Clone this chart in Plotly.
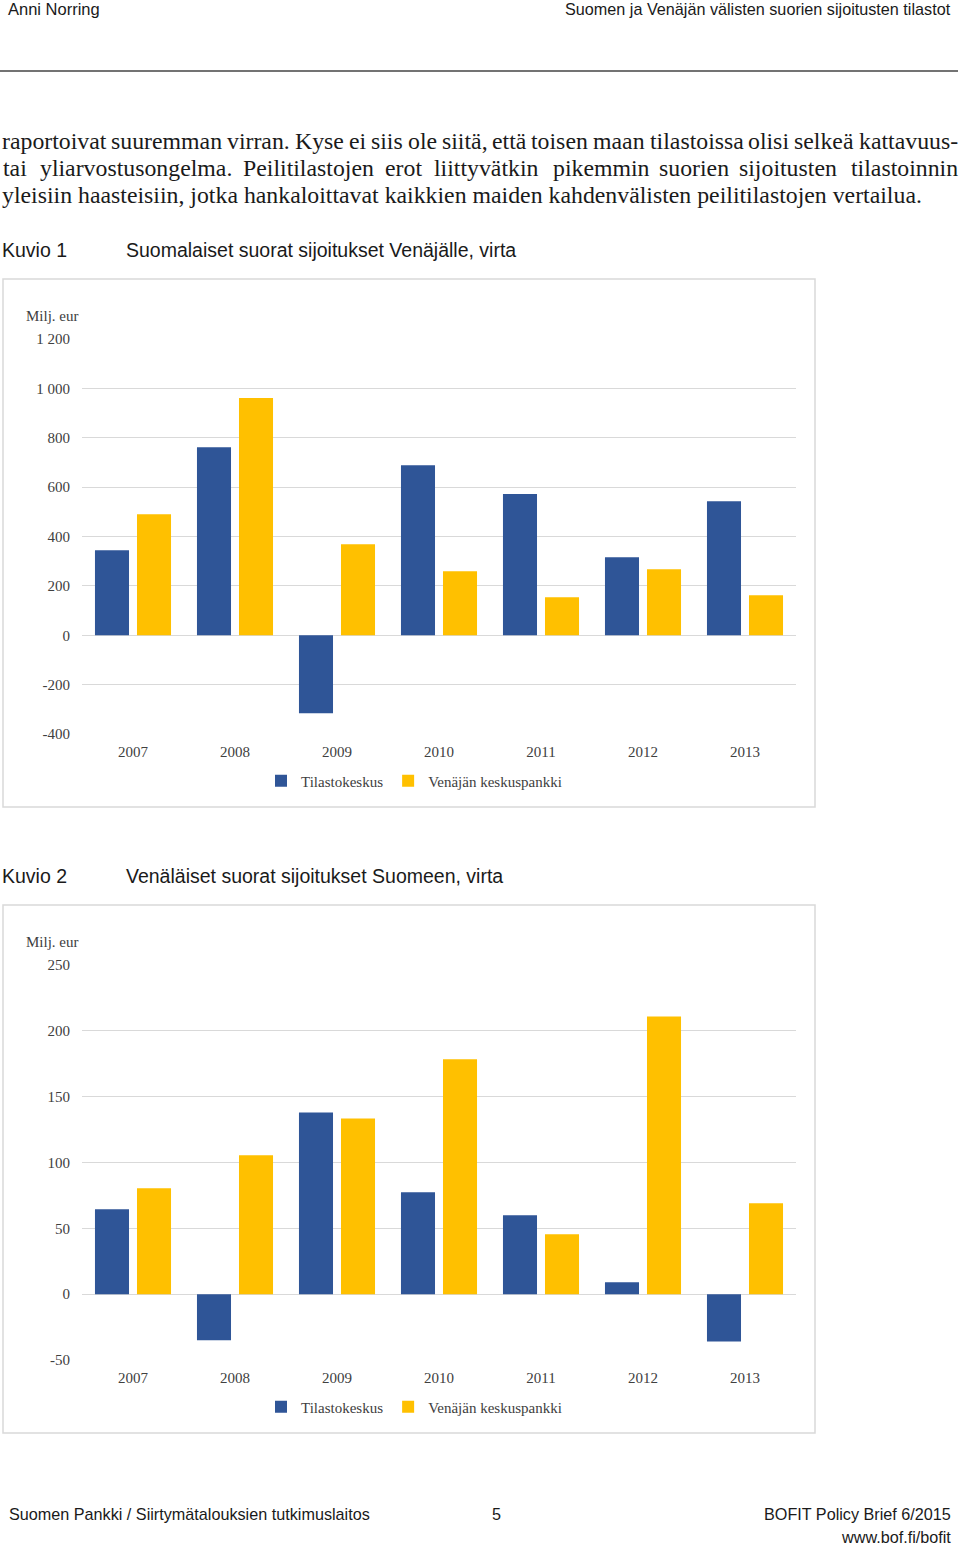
import plotly.graph_objects as go

W = 960
# The page is captured with an 8px band above the figure and a slight vertical
# rescale (1563 -> 1547); map reference pixel rows through it.
S = 1563 / 1547
OFF = 8
FIG_H = 1555

years = ["2007", "2008", "2009", "2010", "2011", "2012", "2013"]

# Kuvio 1: Suomalaiset suorat sijoitukset Venäjälle, virta (milj. eur)
fi_ru_tilastokeskus = [345, 762, -316, 689, 572, 316, 543]
fi_ru_keskuspankki = [490, 961, 369, 259, 154, 268, 162]

# Kuvio 2: Venäläiset suorat sijoitukset Suomeen, virta (milj. eur)
ru_fi_tilastokeskus = [64.5, -35, 138, 77.5, 60, 9, -36]
ru_fi_keskuspankki = [80.5, 105.5, 133.5, 178.5, 45.5, 211, 69]

series_names = ["Tilastokeskus", "Venäjän keskuspankki"]
colors = ["#2F5597", "#FFC000"]

y1_ticks = [-400, -200, 0, 200, 400, 600, 800, 1000, 1200]
y1_labels = ["-400", "-200", "0", "200", "400", "600", "800", "1 000", "1 200"]
y2_ticks = [-50, 0, 50, 100, 150, 200, 250]
y2_labels = ["-50", "0", "50", "100", "150", "200", "250"]

SERIF = "Liberation Serif, Times New Roman, serif"
SANS = "Liberation Sans, Arial, sans-serif"
TXT = "#1a1a1a"
AX = "#404040"


def X(px):
    return px / W


def Y(py):
    return 1 - (py * S - OFF) / FIG_H


fig = go.Figure()
for vals, name, col in [(fi_ru_tilastokeskus, series_names[0], colors[0]),
                        (fi_ru_keskuspankki, series_names[1], colors[1])]:
    fig.add_trace(go.Bar(x=years, y=vals, name=name, marker_color=col,
                         marker_line_width=0, xaxis="x", yaxis="y", legend="legend"))
for vals, name, col in [(ru_fi_tilastokeskus, series_names[0], colors[0]),
                        (ru_fi_keskuspankki, series_names[1], colors[1])]:
    fig.add_trace(go.Bar(x=years, y=vals, name=name, marker_color=col,
                         marker_line_width=0, xaxis="x2", yaxis="y2", legend="legend2"))

xdom = [X(82), X(796)]
common_x = dict(domain=xdom, showgrid=False, showline=False, ticks="", zeroline=False,
                tickfont=dict(family=SERIF, size=15, color=AX), ticklabelstandoff=7,
                fixedrange=True)
common_y = dict(showgrid=True, gridcolor="#d9d9d9", gridwidth=1, zeroline=True,
                zerolinecolor="#d9d9d9", zerolinewidth=1, showline=False, ticks="",
                tickfont=dict(family=SERIF, size=15, color=AX), ticklabelstandoff=11,
                fixedrange=True)

fig.update_layout(
    width=W, height=FIG_H, margin=dict(l=0, r=0, t=0, b=0),
    paper_bgcolor="white", plot_bgcolor="white",
    barmode="group", bargap=0.176, bargroupgap=0.19,
    xaxis=dict(**common_x, anchor="y"),
    yaxis=dict(**common_y, domain=[Y(734), Y(339)], range=[-400, 1200],
               tickvals=y1_ticks, ticktext=y1_labels, anchor="x"),
    xaxis2=dict(**common_x, anchor="y2"),
    yaxis2=dict(**common_y, domain=[Y(1360), Y(965)], range=[-50, 250],
                tickvals=y2_ticks, ticktext=y2_labels, anchor="x2"),
    legend=dict(orientation="h", x=X(414), xanchor="center", y=Y(781), yanchor="middle",
                font=dict(family=SERIF, size=15, color=AX), itemwidth=30,
                bgcolor="rgba(0,0,0,0)", traceorder="normal"),
    legend2=dict(orientation="h", x=X(414), xanchor="center", y=Y(1407), yanchor="middle",
                 font=dict(family=SERIF, size=15, color=AX), itemwidth=30,
                 bgcolor="rgba(0,0,0,0)", traceorder="normal"),
    showlegend=True,
)

shapes = [
    dict(type="line", xref="paper", yref="paper", x0=X(0), x1=X(958), y0=Y(71), y1=Y(71),
         line=dict(color="#444444", width=1.5)),
    dict(type="rect", xref="paper", yref="paper", x0=X(3), x1=X(815), y0=Y(279), y1=Y(807),
         line=dict(color="#d9d9d9", width=1.5), layer="below"),
    dict(type="rect", xref="paper", yref="paper", x0=X(3), x1=X(815), y0=Y(905), y1=Y(1433),
         line=dict(color="#d9d9d9", width=1.5), layer="below"),
]
fig.update_layout(shapes=shapes)

ann = []


def text(px, py, s, size, family, anchor="left", color=TXT):
    ann.append(dict(x=X(px), y=Y(py), xref="paper", yref="paper", text=s, showarrow=False,
                    xanchor=anchor, yanchor="middle", font=dict(family=family, size=size, color=color)))


# header
text(6, 9, "Anni Norring", 16.5, SANS)
text(953, 9, "Suomen ja Venäjän välisten suorien sijoitusten tilastot", 16.2, SANS, anchor="right")

# paragraph (justified lines placed word by word)
PF = 23.8
line1 = [(0, "raportoivat"), (109, "suuremman"), (225, "virran."), (293, "Kyse"), (347, "ei"),
         (369, "siis"), (406, "ole"), (440, "siitä,"), (490, "että"), (529, "toisen"),
         (591, "maan"), (648, "tilastoissa"), (746, "olisi"), (792, "selkeä")]
line2 = [(1, "tai"), (38, "yliarvostusongelma."), (241, "Peilitilastojen"), (383, "erot"),
         (432, "liittyvätkin"), (551, "pikemmin"), (657, "suorien"), (737, "sijoitusten")]
for px, w in line1:
    text(px, 141, w, PF, SERIF)
text(960, 141, "kattavuus-", PF, SERIF, anchor="right")
for px, w in line2:
    text(px, 168, w, PF, SERIF)
text(960, 168, "tilastoinnin", PF, SERIF, anchor="right")
text(0, 195, "yleisiin haasteisiin, jotka hankaloittavat kaikkien maiden kahdenvälisten peilitilastojen vertailua.", PF, SERIF)

# figure titles
text(0, 250, "Kuvio 1", 19.5, SANS)
text(124, 250, "Suomalaiset suorat sijoitukset Venäjälle, virta", 19.5, SANS)
text(0, 876, "Kuvio 2", 19.5, SANS)
text(124, 876, "Venäläiset suorat sijoitukset Suomeen, virta", 19.5, SANS)

# unit labels
text(24, 316, "Milj. eur", 15, SERIF, color=AX)
text(24, 942, "Milj. eur", 15, SERIF, color=AX)

# footer
text(7, 1514, "Suomen Pankki / Siirtymätalouksien tutkimuslaitos", 16.2, SANS)
text(496, 1514, "5", 16.2, SANS, anchor="center")
text(953, 1514, "BOFIT Policy Brief 6/2015", 16.2, SANS, anchor="right")
text(953, 1537, "www.bof.fi/bofit", 16.2, SANS, anchor="right")

fig.update_layout(annotations=ann)

fig.write_html("out.html")
